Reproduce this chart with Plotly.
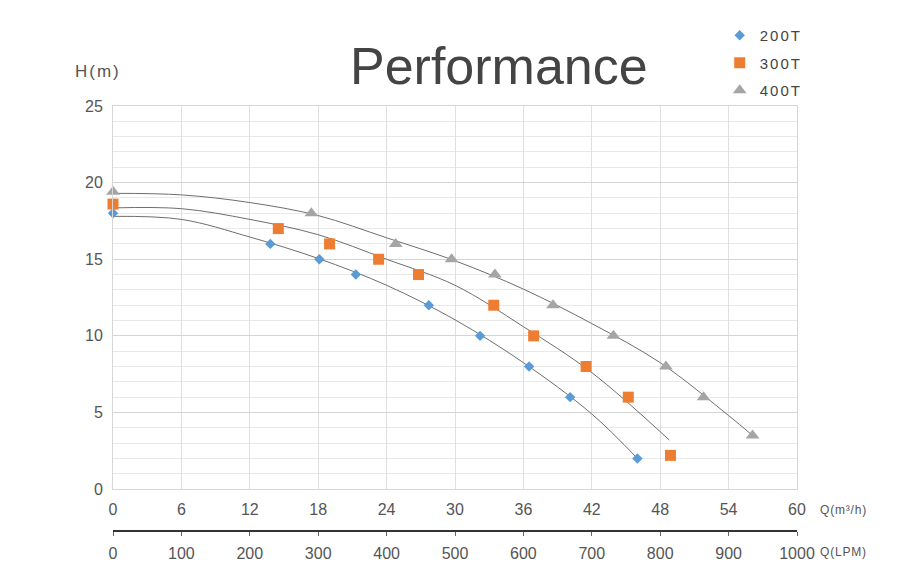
import plotly.graph_objects as go

# ---- data ----
q_200 = [0, 13.8, 18.1, 21.3, 27.7, 32.2, 36.5, 40.1, 46.0]
h_200 = [18, 16, 15, 14, 12, 10, 8, 6, 2]
q_300 = [0, 14.5, 19.0, 23.3, 26.8, 33.4, 36.9, 41.5, 45.2, 48.9]
h_300 = [18.6, 17, 16, 15, 14, 12, 10, 8, 6, 2.2]
q_400 = [0, 17.4, 24.8, 29.7, 33.5, 38.6, 43.9, 48.5, 51.8, 56.1]
h_400 = [19.4, 18, 16, 15, 14, 12, 10, 8, 6, 3.5]

# trend curves as drawn in the picture (read at the grid lines)
c200_q = [0, 6, 12, 18, 24, 30, 36, 42, 46.0]
c200_h = [17.8, 17.6, 16.45, 15.05, 13.3, 11.05, 8.25, 4.9, 2.0]
c300_q = [0, 6, 12, 18, 24, 30, 36, 42, 48.8]
c300_h = [18.35, 18.3, 17.6, 16.6, 15.0, 13.3, 10.6, 7.6, 3.2]
c400_q = [0, 6, 12, 18, 24, 30, 36, 42, 48, 54, 56.1]
c400_h = [19.3, 19.2, 18.7, 17.85, 16.4, 14.9, 13.05, 10.8, 8.25, 4.8, 3.5]

series_names = ["200T", "300T", "400T"]
m3h_ticks = [0, 6, 12, 18, 24, 30, 36, 42, 48, 54, 60]
lpm_ticks = [0, 100, 200, 300, 400, 500, 600, 700, 800, 900, 1000]
h_ticks = [0, 5, 10, 15, 20, 25]

colors = ["#5B9BD5", "#ED7D31", "#A5A5A5"]
symbols = ["diamond", "square", "triangle-up"]
sizes = [8, 11, 12]
FONT = "Liberation Sans, Arial, sans-serif"


def spaced(t, px):
    return '<span style="letter-spacing:%spx">%s</span>' % (px, t)


fig = go.Figure()

for cq, ch in [(c200_q, c200_h), (c300_q, c300_h), (c400_q, c400_h)]:
    fig.add_trace(go.Scatter(
        x=cq, y=ch, mode="lines",
        line=dict(color="#6e6e6e", width=1, shape="spline", smoothing=1.0),
        showlegend=False, hoverinfo="skip"))

for i, (q, h) in enumerate([(q_200, h_200), (q_300, h_300), (q_400, h_400)]):
    fig.add_trace(go.Scatter(
        x=q, y=h, mode="markers", name=spaced(series_names[i], 2),
        legendgroup=series_names[i], cliponaxis=False,
        marker=dict(symbol=symbols[i], size=sizes[i], color=colors[i])))

# invisible trace to carry the LPM axis
fig.add_trace(go.Scatter(x=lpm_ticks, y=[None] * len(lpm_ticks), xaxis="x2",
                         mode="markers", showlegend=False, hoverinfo="skip"))

fig.update_layout(
    width=914, height=566,
    margin=dict(l=105, r=125, t=97, b=43),
    paper_bgcolor="white", plot_bgcolor="white",
    font=dict(family=FONT, color="#555555", size=16),
    title=dict(text="Performance",
               xref="container", x=0.537, xanchor="center",
               yref="container", y=0.8975, yanchor="middle",
               font=dict(family=FONT, size=52, color="#444444")),
    xaxis=dict(range=[0, 60], tickvals=m3h_ticks, showgrid=True, gridcolor="#e0e0e0",
               zeroline=False, showline=True, linecolor="#d6d6d6", mirror=True,
               ticks="", ticklabelstandoff=6, automargin=False,
               tickfont=dict(size=16, color="#555555")),
    yaxis=dict(range=[0, 25], tickvals=h_ticks, domain=[0.0986, 1],
               showgrid=True, gridcolor="#d4d4d4", zeroline=False,
               showline=True, linecolor="#d6d6d6", mirror=True,
               minor=dict(dtick=1, showgrid=True, gridcolor="#e9e9e9"),
               ticks="", ticklabelstandoff=6, automargin=False,
               tickfont=dict(size=16, color="#555555")),
    xaxis2=dict(range=[0, 1000], tickvals=lpm_ticks, overlaying="x", anchor="free",
                position=0, side="bottom", showgrid=False, zeroline=False,
                showline=True, linecolor="#333333", linewidth=1.5,
                ticks="outside", ticklen=4, tickcolor="#666666",
                ticklabelstandoff=4, automargin=False,
                tickfont=dict(size=16, color="#555555")),
    legend=dict(x=0.887, y=1.202, xanchor="left", yanchor="top",
                traceorder="grouped", tracegroupgap=5,
                font=dict(size=15, color="#444444"), bgcolor="rgba(0,0,0,0)"),
    annotations=[
        dict(text=spaced("H(m)", 2), xref="paper", yref="paper", x=-0.0219, y=1.08,
             xanchor="center", yanchor="middle", showarrow=False,
             font=dict(size=17, color="#555555")),
        dict(text=spaced("Q(m³/h)", 0.8), xref="paper", yref="paper", x=1.031, y=0.049,
             xanchor="left", yanchor="middle", showarrow=False,
             font=dict(size=12, color="#555555")),
        dict(text=spaced("Q(LPM)", 0.8), xref="paper", yref="paper", x=1.031, y=-0.049,
             xanchor="left", yanchor="middle", showarrow=False,
             font=dict(size=12, color="#555555")),
    ],
)

fig.write_html("out.html")
